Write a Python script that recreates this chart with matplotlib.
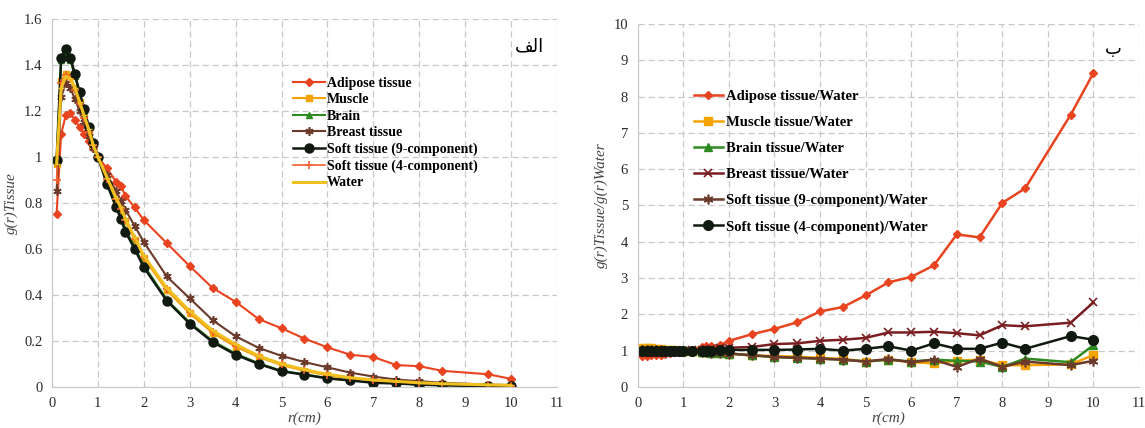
import numpy as np
import matplotlib
matplotlib.use("Agg")
import matplotlib.pyplot as plt

plt.rcParams['font.family'] = ['Liberation Serif', 'DejaVu Sans']

# distances r (cm)
r = [0.1, 0.2, 0.3, 0.4, 0.5, 0.6, 0.7, 0.8, 0.9, 1.0, 1.2, 1.4, 1.5, 1.6, 1.8, 2,
     2.5, 3, 3.5, 4, 4.5, 5, 5.5, 6, 6.5, 7, 7.5, 8, 8.5, 9.5, 10]

# panel a: g(r) tissue
adipose = [0.75, 1.10, 1.18, 1.19, 1.16, 1.13, 1.10, 1.07, 1.04, 1.00, 0.95, 0.89, 0.875, 0.83, 0.78, 0.725,
           0.625, 0.525, 0.43, 0.37, 0.295, 0.255, 0.21, 0.172, 0.14, 0.13, 0.095, 0.09, 0.07, 0.055, 0.035]
muscle = [0.97, 1.33, 1.36, 1.35, 1.30, 1.24, 1.18, 1.11, 1.05, 1.00, 0.90, 0.81, 0.77, 0.72, 0.64, 0.56,
          0.42, 0.32, 0.235, 0.175, 0.13, 0.095, 0.07, 0.05, 0.037, 0.027, 0.022, 0.016, 0.012, 0.007, 0.005]
brain = [0.98, 1.42, 1.45, 1.42, 1.35, 1.28, 1.20, 1.13, 1.06, 1.00, 0.89, 0.79, 0.74, 0.685, 0.61, 0.53,
         0.38, 0.28, 0.20, 0.145, 0.103, 0.07, 0.055, 0.038, 0.029, 0.02, 0.016, 0.011, 0.008, 0.004, 0.003]
breast = [0.85, 1.26, 1.32, 1.30, 1.25, 1.20, 1.15, 1.09, 1.04, 1.00, 0.92, 0.85, 0.81, 0.77, 0.70, 0.63,
          0.48, 0.385, 0.29, 0.22, 0.17, 0.135, 0.108, 0.085, 0.062, 0.045, 0.032, 0.025, 0.018, 0.01, 0.008]
soft9 = [0.985, 1.43, 1.47, 1.43, 1.36, 1.28, 1.21, 1.13, 1.06, 1.00, 0.88, 0.78, 0.73, 0.675, 0.60, 0.52,
         0.375, 0.275, 0.195, 0.14, 0.10, 0.068, 0.053, 0.037, 0.028, 0.018, 0.015, 0.010, 0.007, 0.003, 0.002]
soft4 = [0.90, 1.32, 1.355, 1.34, 1.29, 1.23, 1.17, 1.11, 1.05, 1.00, 0.905, 0.815, 0.775, 0.725, 0.645, 0.565,
         0.425, 0.325, 0.24, 0.18, 0.133, 0.098, 0.072, 0.052, 0.039, 0.028, 0.023, 0.017, 0.013, 0.008, 0.006]
water = [0.97, 1.30, 1.35, 1.34, 1.30, 1.24, 1.18, 1.12, 1.05, 1.00, 0.91, 0.82, 0.78, 0.73, 0.65, 0.57,
         0.43, 0.33, 0.245, 0.185, 0.135, 0.10, 0.075, 0.055, 0.04, 0.03, 0.024, 0.018, 0.014, 0.009, 0.007]

# panel b: g(r) tissue / g(r) water
adipose_w = [0.85, 0.86, 0.87, 0.88, 0.89, 0.91, 0.93, 0.95, 0.98, 1.00, 1.02, 1.10, 1.12, 1.12, 1.15, 1.27,
             1.45, 1.6, 1.78, 2.08, 2.2, 2.52, 2.88, 3.03, 3.35, 4.2, 4.12, 5.07, 5.47, 7.5, 8.65]
muscle_w = [1.08, 1.07, 1.06, 1.05, 1.04, 1.03, 1.02, 1.01, 1.0, 1.0, 0.98, 0.96, 0.95, 0.94, 0.93, 0.92,
            0.87, 0.85, 0.83, 0.8, 0.77, 0.7, 0.75, 0.68, 0.65, 0.72, 0.75, 0.6, 0.6, 0.62, 0.88]
brain_w = [1.05, 1.05, 1.04, 1.04, 1.03, 1.02, 1.01, 1.01, 1.0, 1.0, 0.98, 0.96, 0.95, 0.94, 0.93, 0.92,
           0.87, 0.82, 0.8, 0.78, 0.75, 0.7, 0.75, 0.7, 0.75, 0.72, 0.7, 0.55, 0.78, 0.68, 1.15]
breast_w = [0.95, 0.97, 0.98, 0.98, 0.99, 0.99, 1.0, 1.0, 1.0, 1.0, 1.01, 1.03, 1.04, 1.05, 1.06, 1.08,
            1.1, 1.18, 1.2, 1.27, 1.3, 1.35, 1.5, 1.5, 1.52, 1.48, 1.42, 1.7, 1.67, 1.77, 2.33]
soft9_w = [1.02, 1.02, 1.01, 1.01, 1.01, 1.0, 1.0, 1.0, 1.0, 1.0, 0.98, 0.96, 0.95, 0.94, 0.93, 0.92,
           0.87, 0.83, 0.8, 0.78, 0.75, 0.7, 0.77, 0.68, 0.75, 0.55, 0.78, 0.55, 0.7, 0.6, 0.72]
soft4_w = [0.98, 0.99, 0.99, 1.0, 1.0, 1.0, 1.0, 1.0, 1.0, 1.0, 1.0, 1.0, 1.0, 1.0, 1.01, 1.02,
           1.02, 1.02, 1.03, 1.05, 1.0, 1.05, 1.12, 1.0, 1.2, 1.05, 1.05, 1.22, 1.05, 1.4, 1.3]

RED = '#e8441f'
ORANGE = '#f5a300'
GREEN = '#2e8b22'
BROWN = '#6b3a2a'
MAROON = '#7a1e22'
BLACK = '#101a10'
YELLOW = '#f0c020'
ASTERISK = (6, 2, 0)


def style_axes(ax, ymax, ystep, ylabel):
    ax.set_xlim(0, 11)
    ax.set_ylim(0, ymax)
    ax.set_xticks(range(0, 12))
    ax.set_yticks(np.arange(0, ymax + ystep / 2, ystep))
    ax.grid(True, color='#c8c8c8', linestyle=(0, (5, 3)), linewidth=0.9)
    ax.set_axisbelow(True)
    for s in ['top', 'right']:
        ax.spines[s].set_visible(False)
    for s in ['left', 'bottom']:
        ax.spines[s].set_color('#c8c8c8')
    ax.tick_params(length=0, labelsize=10.5, colors='#2a2a2a', pad=7)
    ax.set_xlabel('r(cm)', fontstyle='italic', fontsize=11, color='#444444', labelpad=1)
    ax.set_ylabel(ylabel, fontstyle='italic', fontsize=11, color='#444444', labelpad=4)


fig = plt.figure(figsize=(11.45, 4.28), dpi=100)

ax1 = fig.add_axes([0.0454, 0.096, 0.441, 0.86])
ax1.plot(r, adipose, color=RED, marker='D', ms=4.5, lw=1.5, label='Adipose tissue')
ax1.plot(r, muscle, color=ORANGE, marker='s', ms=5, lw=1.5, label='Muscle')
ax1.plot(r, brain, color=GREEN, marker='^', ms=5, lw=1.5, label='Brain')
ax1.plot(r, breast, color=BROWN, marker=ASTERISK, ms=6, mew=1.2, lw=1.5, label='Breast tissue')
ax1.plot(r, soft9, color=BLACK, marker='o', ms=6.5, lw=1.8, label='Soft tissue (9-component)')
ax1.plot(r, soft4, color='#f06030', marker='+', ms=6, mew=1.2, lw=1.2, label='Soft tissue (4-component)')
ax1.plot(r, water, color=YELLOW, marker='_', ms=5, lw=2.2, label='Water')
style_axes(ax1, 1.6, 0.2, 'g(r)Tissue')
ax1.yaxis.set_major_formatter(matplotlib.ticker.FuncFormatter(lambda v, p: '%g' % round(v, 1)))
ax1.legend(loc='upper left', bbox_to_anchor=(0.467, 0.858), frameon=False, handlelength=2.3,
           handletextpad=0.1, labelspacing=0.25, borderaxespad=0,
           prop={'family': 'Liberation Serif', 'weight': 'bold', 'size': 10})
ax1.text(0.975, 0.925, '\ufed2\ufedf\u0627', transform=ax1.transAxes, ha='right', va='center',
         fontsize=13, family=['DejaVu Sans'])

ax2 = fig.add_axes([0.557, 0.096, 0.4378, 0.848])
ax2.plot(r, adipose_w, color=RED, marker='D', ms=4, lw=1.8, label='Adipose tissue/Water')
ax2.plot(r, muscle_w, color=ORANGE, marker='s', ms=6, lw=1.8, label='Muscle tissue/Water')
ax2.plot(r, brain_w, color=GREEN, marker='^', ms=6, lw=1.8, label='Brain tissue/Water')
ax2.plot(r, breast_w, color=MAROON, marker='x', ms=6, mew=1.2, lw=1.8, label='Breast tissue/Water')
ax2.plot(r, soft9_w, color=BROWN, marker=ASTERISK, ms=7, mew=1.2, lw=1.8,
         label='Soft tissue (9-component)/Water')
ax2.plot(r, soft4_w, color=BLACK, marker='o', ms=7, lw=1.8, label='Soft tissue (4-component)/Water')
style_axes(ax2, 10, 1, 'g(r)Tissue/g(r)Water')
ax2.legend(loc='upper left', bbox_to_anchor=(0.1, 0.835), frameon=False, handlelength=2.0,
           handletextpad=0.2, labelspacing=0.88, borderaxespad=0,
           prop={'family': 'Liberation Serif', 'weight': 'bold', 'size': 10.5})
ax2.text(0.965, 0.93, '\u0628', transform=ax2.transAxes, ha='right', va='center',
         fontsize=13, family=['DejaVu Sans'])

fig.savefig('out.png', dpi=100)
